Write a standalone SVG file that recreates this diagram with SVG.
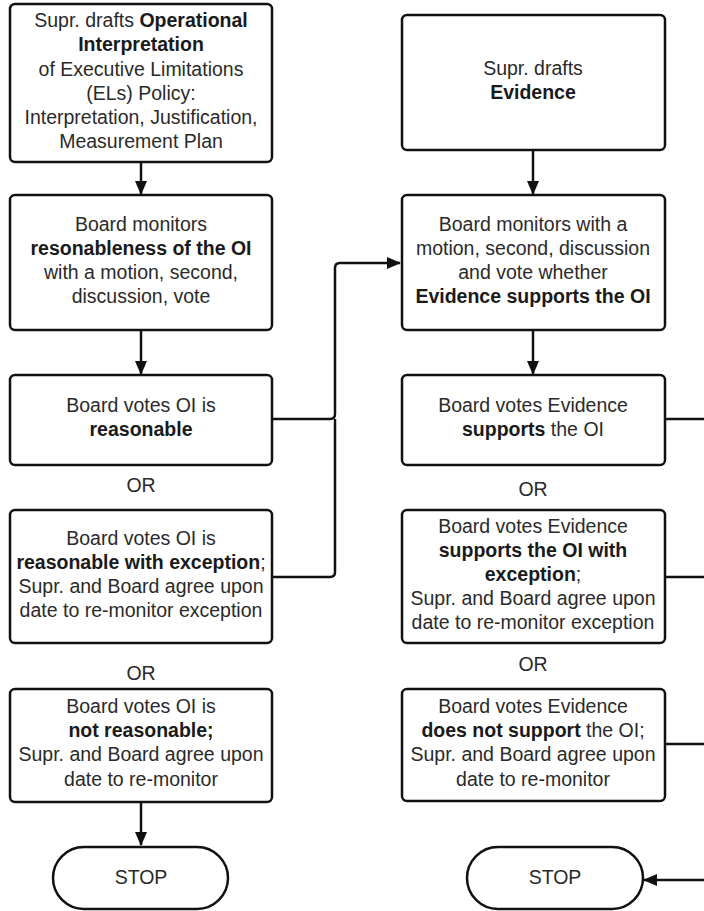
<svg xmlns="http://www.w3.org/2000/svg" width="704" height="911" viewBox="0 0 704 911">
<style>
.box{fill:#fff;stroke:#111;stroke-width:2.5}
.t{font-family:"Liberation Sans",Arial,sans-serif;font-size:19.5px;fill:#2a2a2a;text-anchor:middle}
.b{font-weight:bold;fill:#1a1a1a}
.c{fill:none;stroke:#111;stroke-width:2.5;stroke-linejoin:round}
</style>
<defs>
<marker id="ah" markerWidth="14" markerHeight="12" refX="13" refY="6" orient="auto" markerUnits="userSpaceOnUse">
<path d="M0,0 L14,6 L0,12 Z" fill="#111"/>
</marker>
</defs>
<rect width="704" height="911" fill="#fff"/>
<g id="connectors">
<path class="c" d="M141,162 V194" marker-end="url(#ah)"/>
<path class="c" d="M141,330 V374" marker-end="url(#ah)"/>
<path class="c" d="M141,802 V845" marker-end="url(#ah)"/>
<path class="c" d="M533,150 V194" marker-end="url(#ah)"/>
<path class="c" d="M533,330 V374" marker-end="url(#ah)"/>
<path class="c" d="M272,419 H330 Q335,419 335,414 V268 Q335,263 340,263 H400" marker-end="url(#ah)"/>
<path class="c" d="M272,577 H330 Q335,577 335,572 V419"/>
<path class="c" d="M665,419 H712 V880"/>
<path class="c" d="M665,577 H712"/>
<path class="c" d="M665,744 H712"/>
<path class="c" d="M712,880 H644" marker-end="url(#ah)"/>
</g>
<g id="n1">
<rect class="box" x="10" y="4" width="262" height="158" rx="5"/>
<text class="t" x="141" y="27">Supr. drafts <tspan class="b">Operational</tspan></text>
<text class="t b" x="141" y="51">Interpretation</text>
<text class="t" x="141" y="75.5">of Executive Limitations</text>
<text class="t" x="141" y="100">(ELs) Policy:</text>
<text class="t" x="141" y="124">Interpretation, Justification,</text>
<text class="t" x="141" y="148">Measurement Plan</text>
</g>
<g id="n2">
<rect class="box" x="10" y="195" width="262" height="135" rx="5"/>
<text class="t" x="141" y="231">Board monitors</text>
<text class="t b" x="141" y="255">resonableness of the OI</text>
<text class="t" x="141" y="279">with a motion, second,</text>
<text class="t" x="141" y="303">discussion, vote</text>
</g>
<g id="n3">
<rect class="box" x="10" y="375" width="262" height="90" rx="5"/>
<text class="t" x="141" y="412">Board votes OI is</text>
<text class="t b" x="141" y="436">reasonable</text>
</g>
<text id="or1" class="t" x="141" y="492">OR</text>
<g id="n4">
<rect class="box" x="10" y="510" width="262" height="133" rx="5"/>
<text class="t" x="141" y="545">Board votes OI is</text>
<text class="t" x="141" y="569"><tspan class="b">reasonable with exception</tspan>;</text>
<text class="t" x="141" y="593">Supr. and Board agree upon</text>
<text class="t" x="141" y="617">date to re-monitor exception</text>
</g>
<text id="or2" class="t" x="141" y="680">OR</text>
<g id="n5">
<rect class="box" x="10" y="689" width="262" height="113" rx="5"/>
<text class="t" x="141" y="713">Board votes OI is</text>
<text class="t b" x="141" y="737">not reasonable;</text>
<text class="t" x="141" y="761">Supr. and Board agree upon</text>
<text class="t" x="141" y="786">date to re-monitor</text>
</g>
<g id="stop1">
<rect class="box" x="53" y="847" width="175" height="62" rx="31"/>
<text class="t" x="141" y="884">STOP</text>
</g>
<g id="r1">
<rect class="box" x="402" y="15" width="263" height="135" rx="5"/>
<text class="t" x="533" y="75">Supr. drafts</text>
<text class="t b" x="533" y="99">Evidence</text>
</g>
<g id="r2">
<rect class="box" x="402" y="195" width="263" height="135" rx="5"/>
<text class="t" x="533" y="231">Board monitors with a</text>
<text class="t" x="533" y="255">motion, second, discussion</text>
<text class="t" x="533" y="279">and vote whether</text>
<text class="t b" x="533" y="303">Evidence supports the OI</text>
</g>
<g id="r3">
<rect class="box" x="402" y="375" width="263" height="90" rx="5"/>
<text class="t" x="533" y="412">Board votes Evidence</text>
<text class="t" x="533" y="436"><tspan class="b">supports</tspan> the OI</text>
</g>
<text id="or3" class="t" x="533" y="496">OR</text>
<g id="r4">
<rect class="box" x="402" y="510" width="263" height="133" rx="5"/>
<text class="t" x="533" y="533">Board votes Evidence</text>
<text class="t b" x="533" y="557">supports the OI with</text>
<text class="t" x="533" y="581"><tspan class="b">exception</tspan>;</text>
<text class="t" x="533" y="605">Supr. and Board agree upon</text>
<text class="t" x="533" y="629">date to re-monitor exception</text>
</g>
<text id="or4" class="t" x="533" y="671">OR</text>
<g id="r5">
<rect class="box" x="402" y="689" width="263" height="112" rx="5"/>
<text class="t" x="533" y="713">Board votes Evidence</text>
<text class="t" x="533" y="737"><tspan class="b">does not support</tspan> the OI;</text>
<text class="t" x="533" y="761">Supr. and Board agree upon</text>
<text class="t" x="533" y="786">date to re-monitor</text>
</g>
<g id="stop2">
<rect class="box" x="467" y="847" width="176" height="62" rx="31"/>
<text class="t" x="555" y="884">STOP</text>
</g>
</svg>
